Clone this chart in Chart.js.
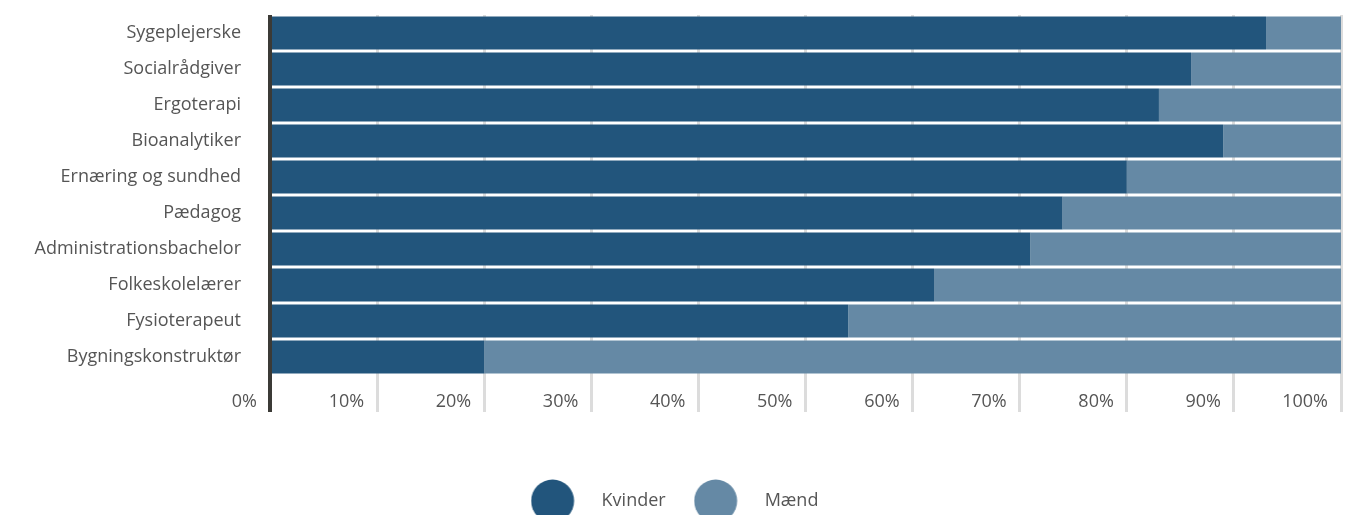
<!DOCTYPE html>
<html>
<head>
<meta charset="utf-8">
<script src="https://cdn.jsdelivr.net/npm/chart.js@4.4.0/dist/chart.umd.min.js"></script>
<style>
    body { margin: 0; background: #fff; overflow: hidden; }
    #boks { width: 1345px; height: 540px; position: relative; }
</style>
</head>
<body>
<div id="boks"><canvas id="grafico"></canvas></div>
<script>

const uddannelser = ['Sygeplejerske', 'Socialrådgiver', 'Ergoterapi', 'Bioanalytiker', 'Ernæring og sundhed',
    'Pædagog', 'Administrationsbachelor', 'Folkeskolelærer', 'Fysioterapeut', 'Bygningskonstruktør'];

const kvinder = [93, 86, 83, 89, 80, 74, 71, 62, 54, 20];
const maend = [7, 14, 17, 11, 20, 26, 29, 38, 46, 80];

const procentTicks = [0, 10, 20, 30, 40, 50, 60, 70, 80, 90, 100];

const farveKvinder = '#22557c';
const farveMaend = '#6589a5';

// legend-cirkel som billede, så den kan blive større end teksten
function lavCirkel(farve) {
    var c = document.createElement('canvas');
    c.width = 54;
    c.height = 44;
    var ctx = c.getContext('2d');
    ctx.fillStyle = farve;
    ctx.beginPath();
    ctx.arc(22, 22, 21.5, 0, Math.PI * 2);
    ctx.fill();
    return c;
}

const tekstFarve = '#555555';
const font = "'Open Sans', sans-serif";

let Grafico = new Chart(
    document.getElementById('grafico'), {
    type: 'bar',
    data: {
        labels: uddannelser,
        datasets: [{
            label: 'Kvinder',
            data: kvinder,
            backgroundColor: farveKvinder,
            pointStyle: lavCirkel(farveKvinder),
            barPercentage: 0.92,
            categoryPercentage: 1
        }, {
            label: 'Mænd',
            data: maend,
            backgroundColor: farveMaend,
            pointStyle: lavCirkel(farveMaend),
            barPercentage: 0.92,
            categoryPercentage: 1
        }]
    },
    options: {
        indexAxis: 'y',
        responsive: true,
        maintainAspectRatio: false,
        animation: false,
        layout: {
            padding: {top: 15, right: 4, left: 0, bottom: 20}
        },
        scales: {
            x: {
                stacked: true,
                min: 0,
                max: 100,
                afterBuildTicks: function (scale) {
                    scale.ticks = procentTicks.map(v => ({value: v}));
                },
                afterFit: function (scale) {
                    scale.height = 97;
                },
                ticks: {
                    color: tekstFarve,
                    font: {family: font, size: 18},
                    align: 'end',
                    labelOffset: -13,
                    padding: -21,
                    maxRotation: 0,
                    autoSkip: false,
                    callback: v => v + '%'
                },
                grid: {
                    color: ctx => ctx.index === 0 ? '#3b3a36' : '#dcdcdc',
                    lineWidth: ctx => ctx.index === 0 ? 4 : 3,
                    tickLength: 37,
                    drawTicks: true
                },
                border: {display: false}
            },
            y: {
                stacked: true,
                afterFit: function (scale) {
                    scale.width = 270;
                    scale.paddingTop = 0;
                    scale.paddingBottom = 0;
                },
                ticks: {
                    color: tekstFarve,
                    font: {family: font, size: 18},
                    padding: 29
                },
                grid: {display: false, drawTicks: false},
                border: {display: false}
            }
        },
        plugins: {
            legend: {
                position: 'bottom',
                labels: {
                    usePointStyle: true,
                    pointStyleWidth: 70,
                    color: tekstFarve,
                    font: {family: font, size: 18},
                    padding: 20
                }
            },
            tooltip: {enabled: false}
        }
    }
});
</script>
</body>
</html>
